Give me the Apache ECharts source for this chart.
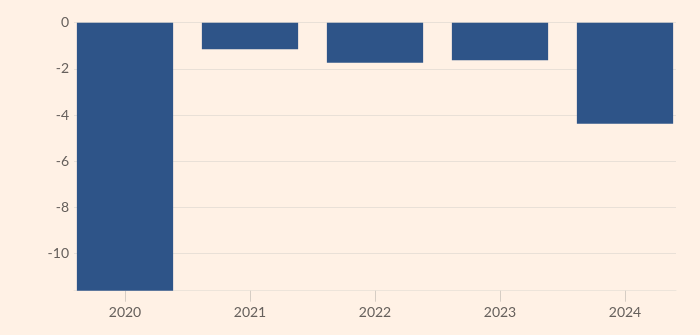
<!DOCTYPE html>
<html><head><meta charset="utf-8">
<script src="https://cdn.jsdelivr.net/npm/echarts@6/dist/echarts.min.js"></script>
<style>html,body{margin:0;padding:0;background:#FFF1E5;}#c{width:700px;height:335px;}</style>
</head><body><div id="c"></div>
<script>
const categories = ['2020','2021','2022','2023','2024'];
const values = [-11.6, -1.15, -1.73, -1.63, -4.37];
const yTicks = [0, -2, -4, -6, -8, -10];

const chart = echarts.init(document.getElementById('c'));
const font = 'Lato, "Open Sans", sans-serif';
const gTop = 22.7, gBottom = 335 - 290.7;
chart.setOption({
  backgroundColor: '#FFF1E5',
  animation: false,
  grid: [
    {left: 74, right: 24, top: gTop, bottom: gBottom},
    {left: 62.5, right: 12.5, top: gTop, bottom: gBottom}
  ],
  xAxis: [
    {gridIndex: 0, type: 'value', min: 0, max: 1, axisLabel: {show: false}, splitLine: {show: false}, axisTick: {show: false},
     axisLine: {show: true, onZero: false, lineStyle: {color: '#EDE4DA'}}},
    {gridIndex: 1, type: 'category', data: categories,
     axisLine: {show: true, onZero: false, lineStyle: {opacity: 0}},
     axisTick: {show: true, alignWithLabel: true, length: 11, lineStyle: {color: '#D6CDC4', opacity: 1}},
     axisLabel: {color: '#66605C', fontFamily: font, fontSize: 14, margin: 15}}
  ],
  yAxis: [
    {gridIndex: 0, type: 'value', min: -11.6, max: 0,
     axisLabel: {color: '#66605C', fontFamily: font, fontSize: 14, margin: 5, customValues: yTicks},
     axisLine: {show: false}, axisTick: {show: false, customValues: yTicks},
     splitLine: {show: true, lineStyle: {color: '#E9E0D7'}}},
    {gridIndex: 1, type: 'value', min: -11.6, max: 0, show: false}
  ],
  series: [{
    type: 'bar', xAxisIndex: 1, yAxisIndex: 1, data: values,
    barCategoryGap: '23%',
    itemStyle: {color: '#2E5488'}
  }]
});
</script></body></html>
